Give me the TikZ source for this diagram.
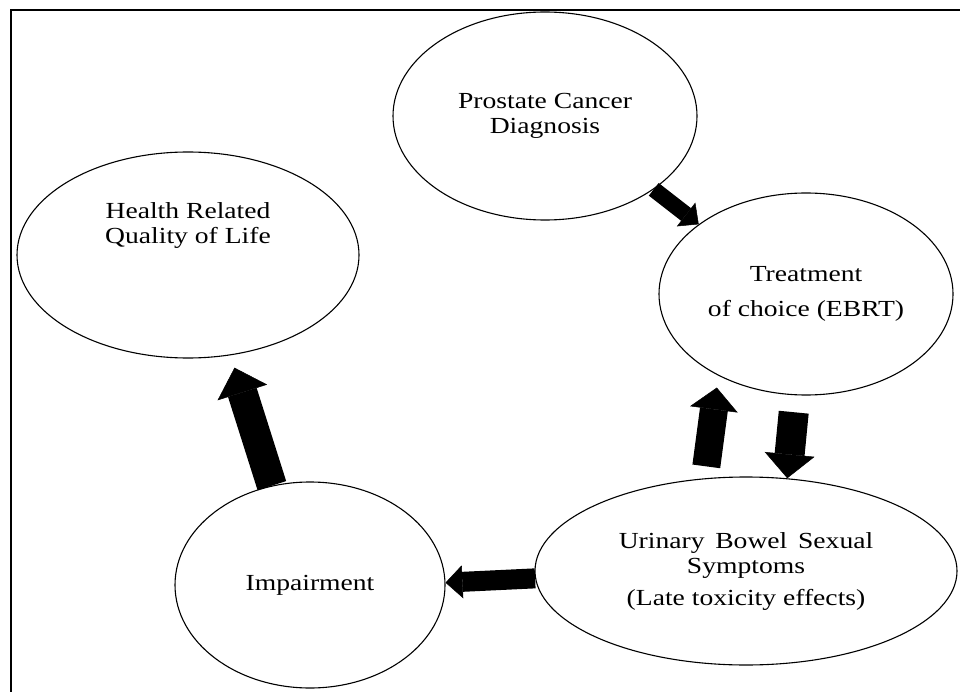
\documentclass[tikz,border=0pt]{standalone}
\usepackage{fontspec}
\setmainfont{Liberation Serif}[FakeStretch=1.2]
\usetikzlibrary{shapes.geometric,arrows.meta}
\begin{document}
\begin{tikzpicture}[x=1pt,y=-1pt,
  oval/.style={draw,ellipse,line width=1.1pt,inner sep=0pt,align=center,
    font=\fontsize{23}{25}\selectfont},
  txt/.style={align=center,inner sep=0pt,font=\fontsize{23}{25}\selectfont},
  blk/.style args={#1/#2/#3}{line width=#1pt,draw=black,line cap=butt,
    -{Triangle[width=#2pt,length=#3pt,line width=0.5pt]}},
]
\useasboundingbox (0,0) rectangle (960,692);
\draw[line width=2pt] (11,692) -- (11,10) -- (960,10);

\node[oval,minimum width=304pt,minimum height=208pt] (prost) at (545,116)
  {Prostate Cancer\\Diagnosis};
\node[oval,minimum width=342pt,minimum height=206pt] (hrql) at (188,255) {};
\node[txt] (hrqlt) at (188,226) {Health Related\\Quality of Life};
\node[oval,minimum width=294pt,minimum height=202pt] (treat) at (806,294)
  {Treatment\\[10pt]of choice (EBRT)};
\node[oval,minimum width=422pt,minimum height=188pt] (urin) at (746,571)
  {Urinary\, Bowel\, Sexual\\Symptoms\\[7pt](Late toxicity effects)};
\node[oval,minimum width=270pt,minimum height=206pt] (imp) at (310,585)
  {Impairment};

\draw[blk=16/30/16] (prost.-34) -- (treat.147);
\draw[blk=28/48/22,shorten <=12pt,shorten >=12pt] (urin.114) -- (treat.223.6);
\draw[blk=30/50/24,shorten <=17pt] (treat.264.9) -- (urin.66);
\draw[blk=20/33/17] (urin.182) -- (imp.1);
\draw[blk=30/52/26,shorten >=13pt] (imp.111) -- (hrql.-67.2);
\end{tikzpicture}
\end{document}
